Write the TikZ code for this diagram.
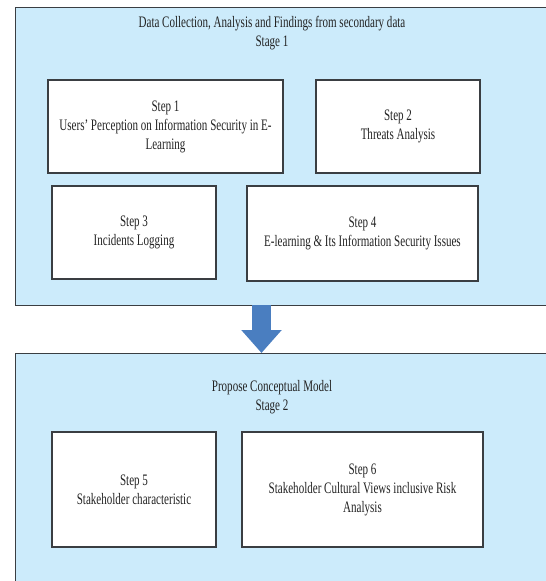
\documentclass[tikz,border=0pt]{standalone}
\usepackage{fontspec}
\setmainfont{Liberation Serif}[FakeStretch=0.69]
\usepackage{xcolor}
\usepackage{tikz}
\usetikzlibrary{arrows.meta,positioning}
\definecolor{stagefill}{RGB}{204,235,251}
\definecolor{stageline}{RGB}{58,62,66}
\definecolor{arrowblue}{RGB}{74,126,192}
\definecolor{textgray}{RGB}{35,35,35}

\begin{document}
\begin{tikzpicture}[x=1pt, y=-1pt,
    stage/.style={draw=stageline, line width=1.4pt, fill=stagefill, anchor=north west, inner sep=0pt},
    stepbox/.style={draw=stageline, line width=1.3pt, fill=white, align=center, text=textgray, font=\fontsize{16}{19}\selectfont},
    title/.style={align=center, text=textgray, font=\fontsize{16}{19}\selectfont},
    bigarrow/.style={arrowblue, line width=19pt, -{Triangle[width=39pt, length=23pt]}}
]
\useasboundingbox (0,0) rectangle (546,581);
\clip (0,0) rectangle (546,581);

% Stage 1
\node[stage, minimum width=600pt, minimum height=298pt] (stage1) at (15,7) {};
\node[title] (title1) at (272,33) {Data Collection, Analysis and Findings from secondary data\\Stage 1};
\node[stepbox, minimum width=235pt, minimum height=93pt] (step1) at (165.5,126.5) {Step 1\\Users' Perception on Information Security in E-\\Learning};
\node[stepbox, minimum width=164pt, minimum height=93pt] (step2) at (398,126.5) {Step 2\\Threats Analysis};
\node[stepbox, minimum width=164pt, minimum height=93pt] (step3) at (134,232.5) {Step 3\\Incidents Logging};
\node[stepbox, minimum width=231pt, minimum height=95pt] (step4) at (362.5,233.5) {Step 4\\E-learning \& Its Information Security Issues};

% Stage 2
\node[stage, minimum width=600pt, minimum height=260pt] (stage2) at (15,353) {};
\node[title] (title2) at (272,397) {Propose Conceptual Model\\Stage 2};
\node[stepbox, minimum width=164pt, minimum height=115pt] (step5) at (134,489.5) {Step 5\\Stakeholder characteristic};
\node[stepbox, minimum width=241pt, minimum height=115pt] (step6) at (362.5,489.5) {Step 6\\Stakeholder Cultural Views inclusive Risk\\Analysis};

% Arrow
\coordinate (out1) at (261.5,305);
\coordinate (in2) at (261.5,353);
\draw[bigarrow] (out1) -- (in2);
\end{tikzpicture}
\end{document}
